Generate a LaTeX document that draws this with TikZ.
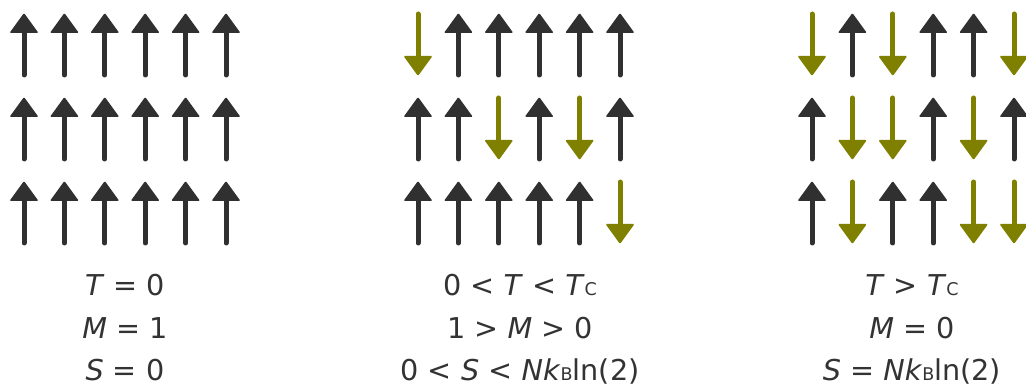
\documentclass[tikz,border=0pt]{standalone}
\usepackage{fontspec}
\setmainfont{DejaVu Sans}
\definecolor{spinup}{HTML}{303030}
\definecolor{spindn}{HTML}{808000}
\newcommand\upspin[2]{%
  \draw[spinup, line width=5, line cap=round] (#1,#2+62) -- (#1,#2+19);
  \fill[spinup, rounded corners=1.2] (#1,#2) -- (#1+14.5,#2+20) -- (#1-14.5,#2+20) -- cycle;}
\newcommand\dnspin[2]{%
  \draw[spindn, line width=5, line cap=round] (#1,#2+1) -- (#1,#2+44);
  \fill[spindn, rounded corners=1.2] (#1,#2+63) -- (#1+14.5,#2+43) -- (#1-14.5,#2+43) -- cycle;}
\newcommand\sub[1]{{\fontsize{17.5}{17.5}\selectfont #1}}
\begin{document}
\begin{tikzpicture}[x=1pt,y=-1pt,
  lbl/.style={anchor=base, inner sep=0pt, font=\fontsize{28.7}{34}\selectfont, text=black!80}]
\useasboundingbox (0,0) rectangle (1026,387);
\foreach \g/\r/\pat in {
  0/0/{1,1,1,1,1,1}, 0/1/{1,1,1,1,1,1}, 0/2/{1,1,1,1,1,1},
  1/0/{0,1,1,1,1,1}, 1/1/{1,1,0,1,0,1}, 1/2/{1,1,1,1,1,0},
  2/0/{0,1,0,1,1,0}, 2/1/{1,0,0,1,0,1}, 2/2/{1,0,1,1,0,0}}{
  \foreach \s [count=\i from 0] in \pat {
    \pgfmathsetmacro\xx{24+40.4*\i+394*\g}
    \pgfmathsetmacro\yy{13+84*\r}
    \ifnum\s=1 \upspin{\xx}{\yy}\else \dnspin{\xx}{\yy}\fi
  }
}
\node[lbl] (a1) at (125,296) {\textit{T} = 0};
\node[lbl] (a2) at (125,339) {\textit{M} = 1};
\node[lbl] (a3) at (125,381) {\textit{S} = 0};
\node[lbl] (b1) at (520,296) {0 < \textit{T} < \textit{T}\sub{C}};
\node[lbl] (b2) at (520,339) {1 > \textit{M} > 0};
\node[lbl] (b3) at (520,381) {0 < \textit{S} < \textit{Nk}\sub{B}ln(2)};
\node[lbl] (c1) at (912,296) {\textit{T} > \textit{T}\sub{C}};
\node[lbl] (c2) at (912,339) {\textit{M} = 0};
\node[lbl] (c3) at (912,381) {\textit{S} = \textit{Nk}\sub{B}ln(2)};
\end{tikzpicture}
\end{document}
